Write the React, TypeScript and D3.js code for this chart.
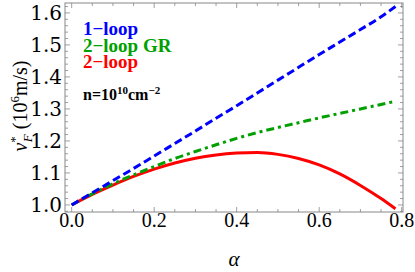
import React from 'react';
import * as d3 from 'd3';

// alpha grid shared by the three curves
const alphas = [0, 0.05, 0.1, 0.15, 0.2, 0.25, 0.3, 0.35, 0.4, 0.45, 0.5, 0.55, 0.6, 0.65, 0.7, 0.75, 0.785];

// v_F* (10^6 m/s)
const oneLoop = [1.0, 1.038, 1.076, 1.114, 1.153, 1.192, 1.231, 1.271, 1.31, 1.35, 1.39, 1.43, 1.47, 1.509, 1.548, 1.588, 1.62];
const twoLoopGR = [1.0, 1.035, 1.066, 1.094, 1.12, 1.145, 1.167, 1.188, 1.208, 1.226, 1.242, 1.257, 1.272, 1.286, 1.3, 1.314, 1.324];
const twoLoop = [1.0, 1.033, 1.062, 1.089, 1.112, 1.131, 1.146, 1.156, 1.162, 1.164, 1.158, 1.145, 1.125, 1.097, 1.061, 1.02, 0.988];

const xMajor = [0, 0.2, 0.4, 0.6, 0.8];
const yMajor = [1.0, 1.1, 1.2, 1.3, 1.4, 1.5, 1.6];

const legendNames = ['1\u2212loop', '2\u2212loop GR', '2\u2212loop'];
const legendColors = ['#0000ff', '#00a000', '#ff0000'];

const W = 415;
const H = 272;
const frame = { left: 65, right: 403, top: 3, bottom: 212 };

const serifA = 'Liberation Serif';
const serifB = 'DejaVu Serif';

const App: React.FC = () => {
  const x = d3.scaleLinear().domain([-0.0162, 0.8032]).range([frame.left, frame.right]);
  const y = d3.scaleLinear().domain([0.978, 1.631]).range([frame.bottom, frame.top]);

  const line = d3.line<number>()
    .x((_, i) => x(alphas[i]))
    .y((d) => y(d))
    .curve(d3.curveMonotoneX);

  const xMinor = d3.range(0, 0.8001, 0.05);
  const yMinor = d3.range(0.98, 1.6201, 0.02);
  const isMajor = (v: number, list: number[]) => list.some((m) => Math.abs(m - v) < 1e-6);

  const tickColor = '#888';

  return (
    <svg width={W} height={H} style={{ position: 'absolute', left: 0, top: 0, background: '#fff' }} fontFamily={serifA}>
      {/* curves */}
      <path d={line(twoLoop) || ''} fill="none" stroke={legendColors[2]} strokeWidth={3} />
      <path d={line(twoLoopGR) || ''} fill="none" stroke={legendColors[1]} strokeWidth={3} strokeDasharray="8,4,3,4" />
      <path d={line(oneLoop) || ''} fill="none" stroke={legendColors[0]} strokeWidth={3} strokeDasharray="8,4" />

      {/* frame */}
      <rect x={frame.left} y={frame.top} width={frame.right - frame.left} height={frame.bottom - frame.top}
        fill="none" stroke={tickColor} strokeWidth={1} />

      {/* x ticks bottom and top */}
      {xMinor.map((v, i) => {
        const len = isMajor(v, xMajor) ? 5 : 3;
        const px = x(v);
        return (
          <g key={'xt' + i} stroke={tickColor} strokeWidth={0.8}>
            <line x1={px} x2={px} y1={frame.bottom} y2={frame.bottom - len} />
            <line x1={px} x2={px} y1={frame.top} y2={frame.top + len} />
          </g>
        );
      })}
      {/* y ticks left and right */}
      {yMinor.map((v, i) => {
        const len = isMajor(v, yMajor) ? 5 : 3;
        const py = y(v);
        return (
          <g key={'yt' + i} stroke={tickColor} strokeWidth={0.8}>
            <line x1={frame.left} x2={frame.left + len} y1={py} y2={py} />
            <line x1={frame.right} x2={frame.right - len} y1={py} y2={py} />
          </g>
        );
      })}

      {/* tick labels */}
      {xMajor.map((v) => (
        <text key={'xl' + v} x={x(v)} y={227} textAnchor="middle" fontSize={20} fontFamily={serifA}>{v.toFixed(1)}</text>
      ))}
      {yMajor.map((v) => (
        <text key={'yl' + v} x={62} y={y(v) + 7} textAnchor="end" fontSize={20} fontFamily={serifB}>{v.toFixed(1)}</text>
      ))}

      {/* axis labels */}
      <text x={234} y={266} textAnchor="middle" fontSize={21} fontStyle="italic">α</text>
      <text transform="translate(27,106) rotate(-90)" textAnchor="middle" fontSize={20}>
        <tspan fontStyle="italic">v</tspan>
        <tspan fontSize={13} dy={-8}>*</tspan>
        <tspan fontSize={13} fontStyle="italic" dx={-6} dy={13}>F</tspan>
        <tspan dy={-5}>{' (10'}</tspan>
        <tspan fontSize={13} dy={-8}>6</tspan>
        <tspan dy={8}>m/s)</tspan>
      </text>

      {/* legend */}
      {legendNames.map((name, i) => (
        <text key={name} x={83} y={35 + i * 16.5} fontSize={19} fontWeight="bold" fill={legendColors[i]}>{name}</text>
      ))}
      <text x={83} y={100} fontSize={16} fontWeight="bold">
        n=10<tspan fontSize={11} dy={-6}>10</tspan>
        <tspan dy={6}>cm</tspan>
        <tspan fontSize={11} dy={-6}>{'\u22122'}</tspan>
      </text>
    </svg>
  );
};

export default App;
